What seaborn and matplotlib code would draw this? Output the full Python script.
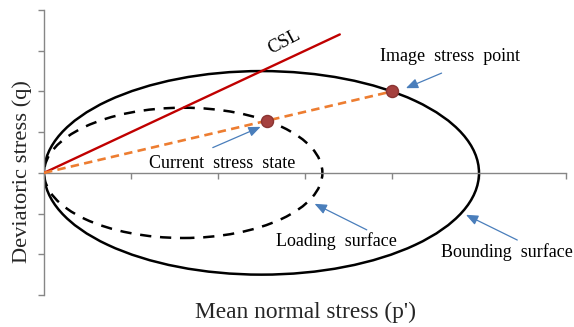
import numpy as np
import pandas as pd
import matplotlib
matplotlib.use("Agg")
import matplotlib.pyplot as plt
from matplotlib.patches import Ellipse
import seaborn as sns

# ---- data (in axis units) ----
x_ticks = [0, 1, 2, 3, 4, 5, 6]
y_ticks = [-3, -2, -1, 0, 1, 2, 3, 4]

# ellipses: center x, center y, semi-axis p, semi-axis q
bounding_ellipse = [2.5, 0.0, 2.5, 2.5]
loading_ellipse = [1.6, 0.0, 1.6, 1.6]

csl_p = [0.0, 3.4]
csl_q = [0.0, 3.4]

path_p = [0.0, 4.0]
path_q = [0.0, 2.0]

points_name = ["Current stress state", "Image stress point"]
points_p = [2.56, 4.0]
points_q = [1.28, 2.0]

annot_text = ["Image  stress  point", "Current  stress  state", "Loading  surface", "Bounding  surface"]
annot_text_xy = [(4.67, 2.87), (2.05, 0.22), (3.36, -1.68), (5.32, -1.95)]
annot_tail = [(4.57, 2.45), (1.94, 0.62), (3.71, -1.40), (5.44, -1.65)]
annot_head = [(4.16, 2.08), (2.49, 1.13), (3.11, -0.76), (4.85, -1.03)]

# ---- figure ----
sns.set_theme(style="white")
plt.rcParams["font.family"] = ["Liberation Serif", "DejaVu Serif"]

fig = plt.figure(figsize=(5.74, 3.27), dpi=100)
ax = fig.add_axes([44 / 574, 32 / 327, 522 / 574, 285 / 327])
ax.set_facecolor("white")

ax.set_xlim(x_ticks[0], x_ticks[-1])
ax.set_ylim(y_ticks[0], y_ticks[-1])

for (cx, cy, a, b), ls in [(bounding_ellipse, "-"), (loading_ellipse, (0, (4.5, 3.5)))]:
    ax.add_patch(Ellipse((cx, cy), 2 * a, 2 * b, fill=False, edgecolor="black",
                         linewidth=1.8, linestyle=ls, zorder=2))

sns.lineplot(x=csl_p, y=csl_q, ax=ax, color="#C00000", linewidth=1.7,
             zorder=3, sort=False)
sns.lineplot(x=path_p, y=path_q, ax=ax, color="#ED7D31", linewidth=1.9,
             linestyle=(0, (3.2, 2.0)), zorder=4, sort=False)
sns.scatterplot(x=points_p, y=points_q, ax=ax, s=75, color="#A5403E",
                edgecolor="#8A3432", linewidth=1.0, zorder=5)

ax.text(2.76, 3.22, "CSL", fontsize=13.5, rotation=28, ha="center", va="center",
        color="black")

for txt, txy, tail, head in zip(annot_text, annot_text_xy, annot_tail, annot_head):
    ax.text(txy[0], txy[1], txt, fontsize=13, ha="center", va="center", color="black")
    ax.annotate("", xy=head, xytext=tail,
                arrowprops=dict(arrowstyle="-|>,head_length=0.6,head_width=0.25",
                                color="#4A7EBB", lw=0.9, shrinkA=0, shrinkB=0),
                zorder=6)

# axes styling
for s in ["top", "right"]:
    ax.spines[s].set_visible(False)
ax.spines["left"].set_position(("data", 0))
ax.spines["bottom"].set_position(("data", 0))
for s in ["left", "bottom"]:
    ax.spines[s].set_color("#868686")
    ax.spines[s].set_linewidth(1.0)
ax.set_xticks(x_ticks)
ax.set_yticks(y_ticks)
ax.tick_params(axis="both", which="both", direction="out", length=4, width=1.0,
               color="#868686", labelleft=False, labelbottom=False,
               left=True, bottom=True)
ax.set_xlabel("")
ax.set_ylabel("")

fig.text(22 / 574, 1 - 172 / 327, "Deviatoric stress (q)", rotation=90, fontsize=16.2,
         ha="center", va="center")
fig.text(306 / 574, 1 - 312 / 327, "Mean normal stress (p')", fontsize=16.8,
         ha="center", va="center")

fig.savefig("out.png", dpi=100)
